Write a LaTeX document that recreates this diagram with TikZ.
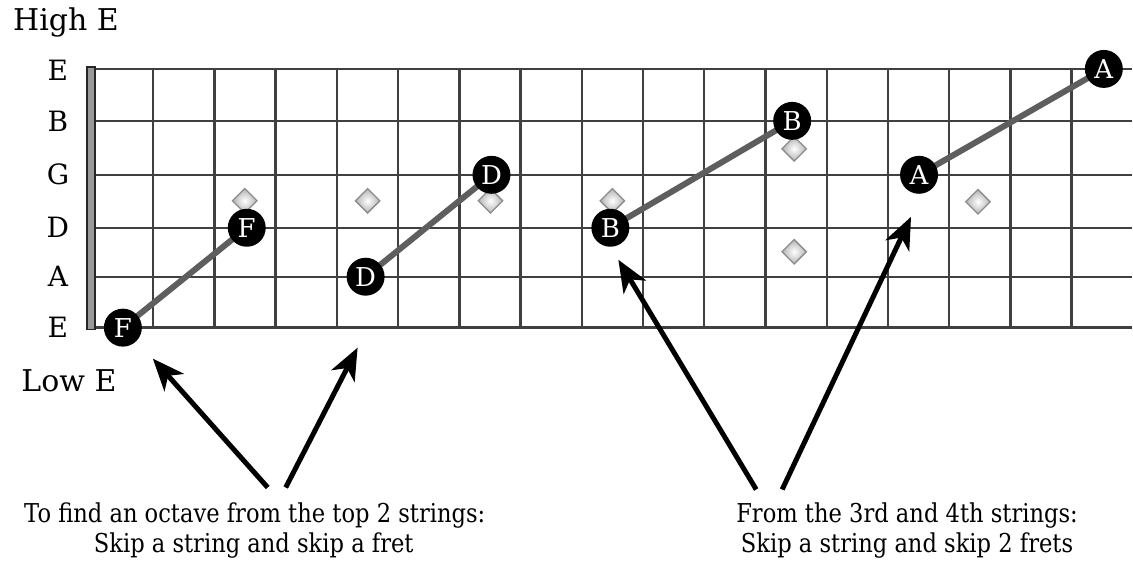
\documentclass[tikz,border=0pt]{standalone}
\usepackage{fontspec}
\setmainfont{DejaVu Serif}
\usetikzlibrary{arrows.meta,shapes.geometric}
\pgfdeclarelayer{back}
\pgfdeclarelayer{mid}
\pgfsetlayers{back,mid,main}
\begin{document}
\begin{tikzpicture}[x=1pt,y=-1pt,
  gridline/.style={draw=black!75,line width=2.4pt},
  nutbar/.style={draw=black!85,fill=black!40,line width=1.6pt},
  note/.style={circle,fill=black,text=white,minimum size=38pt,inner sep=0pt,font=\fontsize{26}{26}\selectfont},
  link/.style={draw=black!63,line width=6pt},
  inlay/.style={diamond,minimum size=25pt,inner sep=0pt,draw=black!45,line width=1.3pt,inner color=white,outer color=black!30},
  strlabel/.style={font=\fontsize{28}{28}\selectfont,inner sep=0pt},
  endlabel/.style={font=\fontsize{30}{30}\selectfont,inner sep=0pt},
  caption/.style={font=\fontsize{26}{30}\selectfont,anchor=base,inner sep=0pt,xscale=0.87,transform shape},
  pointer/.style={draw=black,line width=5pt,-{Stealth[length=32pt,width=26pt,inset=9pt]}}]
\begin{pgfonlayer}{back}
\fill[white] (0,0) rectangle (1133,567);
% strings
\foreach \y in {69,121,175,228,277,328}
  \draw[gridline] (91,\y) -- (1133,\y);
% frets
\foreach \k in {1,...,16}
  \draw[gridline] ({92+61.3*\k},69) -- ({92+61.3*\k},328);
% nut
\draw[nutbar] (87,67) rectangle (95,330);
\end{pgfonlayer}
\useasboundingbox (0,0) rectangle (1133,567);
% inlays
\node[inlay] (i3) at (245,201) {};
\node[inlay] (i5) at (368,201) {};
\node[inlay] (i7) at (491,201) {};
\node[inlay] (i9) at (613,201) {};
\node[inlay] (i12a) at (795,149) {};
\node[inlay] (i12b) at (795,252) {};
\node[inlay] (i15) at (979,202) {};
% notes
\node[note] (f1) at (123,328) {F};
\node[note] (f2) at (247,228) {F};
\node[note] (d1) at (366,277) {D};
\node[note] (d2) at (492,175) {D};
\node[note] (b1) at (611,228) {B};
\node[note] (b2) at (793,121) {B};
\node[note] (a1) at (920,175) {A};
\node[note] (a2) at (1105,69) {A};
% links below notes
\begin{pgfonlayer}{mid}
\draw[link] (f1.center) -- (f2.center);
\draw[link] (d1.center) -- (d2.center);
\draw[link] (b1.center) -- (b2.center);
\draw[link] (a1.center) -- (a2.center);
\end{pgfonlayer}
% string labels
\node[endlabel] (lhigh) at (66,22) {High E};
\node[strlabel] (s1) at (58,70) {E};
\node[strlabel] (s2) at (58,121) {B};
\node[strlabel] (s3) at (58,175) {G};
\node[strlabel] (s4) at (58,228) {D};
\node[strlabel] (s5) at (58,277) {A};
\node[strlabel] (s6) at (58,328) {E};
\node[endlabel] (llow) at (69,381) {Low E};
% arrows
\coordinate (t1) at (268,488); \coordinate (h1) at (153,359);
\coordinate (t2) at (286,488); \coordinate (h2) at (358,348);
\coordinate (t3) at (757,490); \coordinate (h3) at (619,260);
\coordinate (t4) at (783,490); \coordinate (h4) at (912,217);
\draw[pointer] (t1) -- (h1);
\draw[pointer] (t2) -- (h2);
\draw[pointer] (t3) -- (h3);
\draw[pointer] (t4) -- (h4);
% captions
\node[caption] (c1) at (255,523) {To find an octave from the top 2 strings:};
\node[caption] (c2) at (254,553) {Skip a string and skip a fret};
\node[caption] (c3) at (908,523) {From the 3rd and 4th strings:};
\node[caption] (c4) at (908,553) {Skip a string and skip 2 frets};
\end{tikzpicture}
\end{document}
